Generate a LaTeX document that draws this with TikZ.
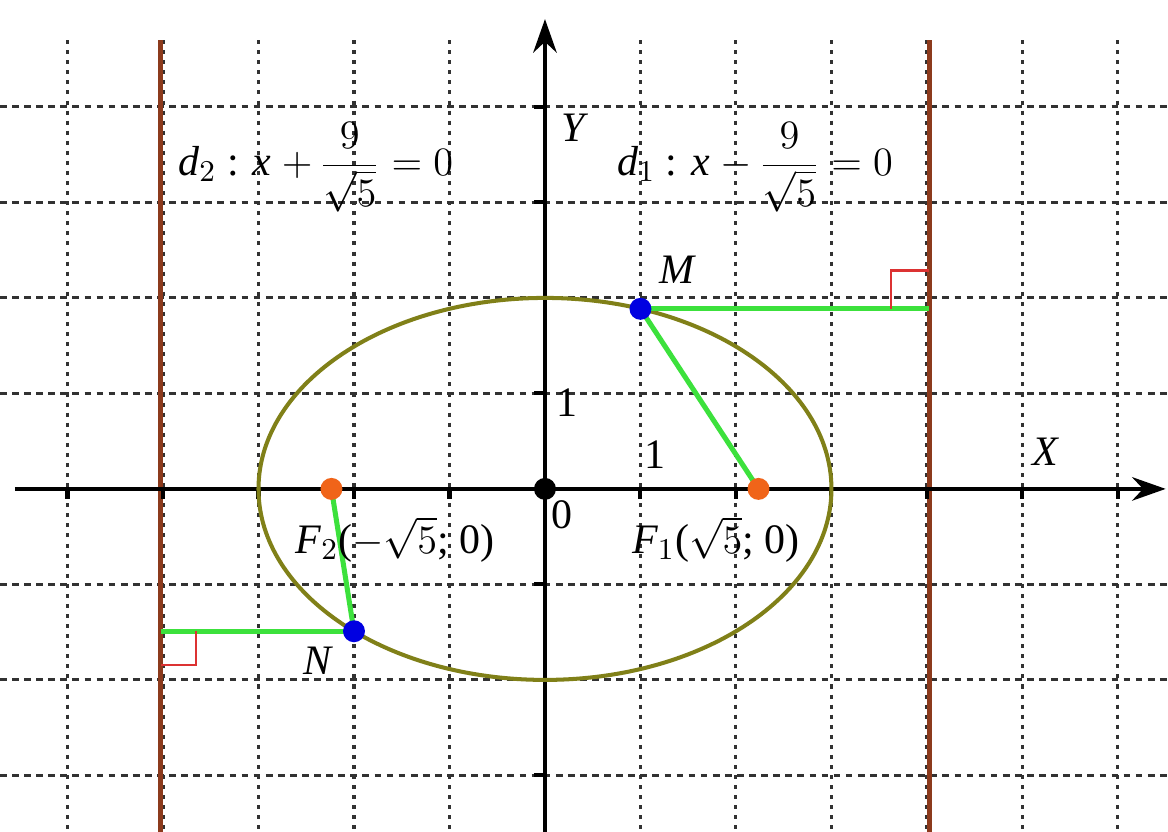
\documentclass[tikz,border=0pt]{standalone}
\usepackage{fontspec}
\setmainfont{Liberation Serif}
\usetikzlibrary{arrows.meta}
\definecolor{dirbrown}{RGB}{140,58,28}
\definecolor{ellolive}{RGB}{128,128,24}
\definecolor{seggreen}{RGB}{60,225,60}
\definecolor{dotblue}{RGB}{0,0,225}
\definecolor{dotorange}{RGB}{240,100,25}
\definecolor{angred}{RGB}{220,50,50}
\definecolor{gridgray}{RGB}{50,50,50}
\tikzset{
  vgrid/.style={gridgray, line width=0.9pt, dash pattern=on 1.2pt off 1.8pt},
  hgrid/.style={gridgray, line width=0.9pt, dash pattern=on 2pt off 1.6pt},
  axisline/.style={black, line width=1.2pt, -{Stealth[length=10pt,width=7pt]}},
  tickmark/.style={black, line width=1.2pt},
  directrix/.style={dirbrown, line width=1.4pt},
  ellipseline/.style={ellolive, line width=1.2pt},
  segment/.style={seggreen, line width=1.5pt},
  rightang/.style={angred, line width=0.7pt},
  bluedot/.style={circle, fill=dotblue, inner sep=0pt, minimum size=0.23cm},
  orangedot/.style={circle, fill=dotorange, inner sep=0pt, minimum size=0.23cm},
  blackdot/.style={circle, fill=black, inner sep=0pt, minimum size=0.23cm},
  lbl/.style={inner sep=0pt, font=\fontsize{12.5}{14}\selectfont}
}
\begin{document}
\begin{tikzpicture}
\useasboundingbox (-5.707,-3.592) rectangle (6.524,5.120);
\fill[white] (-5.707,-3.592) rectangle (6.524,5.120);
\begin{scope}
\clip (-5.707,-3.592) rectangle (6.524,5.120);
% grid
\foreach \x in {-5,-4,-3,-2,-1,1,2,3,4,5,6}
  \draw[vgrid] (\x,4.70) -- (\x,-3.6);
\foreach \y in {-3,-2,-1,1,2,3,4}
  \draw[hgrid] (-5.707,\y) -- (6.524,\y);
% directrices
\draw[directrix] (4.02492,4.70) -- (4.02492,-3.6);
\draw[directrix] (-4.02492,4.70) -- (-4.02492,-3.6);
% axes
\draw[axisline] (-5.55,0) -- (6.50,0);
\draw[axisline] (0,-3.6) -- (0,4.92);
\foreach \x in {-5,-4,-3,-2,-1,1,2,3,4,5,6}
  \draw[tickmark] (\x,0) -- (\x,-0.11);
\foreach \y in {-3,-2,-1,1,2,3,4}
  \draw[tickmark] (0,\y) -- (-0.11,\y);
% ellipse
\draw[ellipseline] (0,0) ellipse [x radius=3, y radius=2];
\end{scope}
% key points
\coordinate (O) at (0,0);
\coordinate (F1) at (2.23607,0);
\coordinate (F2) at (-2.23607,0);
\coordinate (M) at (1,1.88562);
\coordinate (N) at (-2,-1.49071);
\coordinate (PM) at (4.02492,1.88562);
\coordinate (PN) at (-4.02492,-1.49071);
% segments
\draw[segment] (M) -- (PM);
\draw[segment] (M) -- (F1);
\draw[segment] (N) -- (PN);
\draw[segment] (N) -- (F2);
% right angle marks
\draw[rightang] ([xshift=-0.4cm]PM) -- ++(0,0.4) -- ([yshift=0.4cm]PM);
\draw[rightang] ([yshift=-0.35cm]PN) -- ++(0.37,0) -- ([xshift=0.37cm]PN);
% dots
\node[blackdot] (Odot) at (O) {};
\node[orangedot] (F1dot) at (F1) {};
\node[orangedot] (F2dot) at (F2) {};
\node[bluedot] (Mdot) at (M) {};
\node[bluedot] (Ndot) at (N) {};
% labels
\node[lbl] (ylab) at (0.29,3.78) {\itshape Y};
\node[lbl] (xlab) at (5.24,0.39) {\itshape X};
\node[lbl] (one y) at (0.23,0.90) {1};
\node[lbl] (one x) at (1.15,0.36) {1};
\node[lbl] (zero) at (0.18,-0.27) {0};
\node[lbl] (mlab) at (1.38,2.29) {\itshape M};
\node[lbl] (nlab) at (-2.38,-1.80) {\itshape N};
\node[lbl] (f2lab) at (-1.57,-0.53) {{\itshape F}$_2$($-\sqrt{5}$; 0)};
\node[lbl] (f1lab) at (1.79,-0.53) {{\itshape F}$_1$($\sqrt{5}$; 0)};
\node[lbl] (d2lab) at (-2.40,3.37) {{\itshape d}$_2$ : {\itshape x} $\displaystyle+\,\frac{9}{\sqrt{5}}=0$};
\node[lbl] (d1lab) at (2.20,3.37) {{\itshape d}$_1$ : {\itshape x} $\displaystyle-\,\frac{9}{\sqrt{5}}=0$};
\end{tikzpicture}
\end{document}
